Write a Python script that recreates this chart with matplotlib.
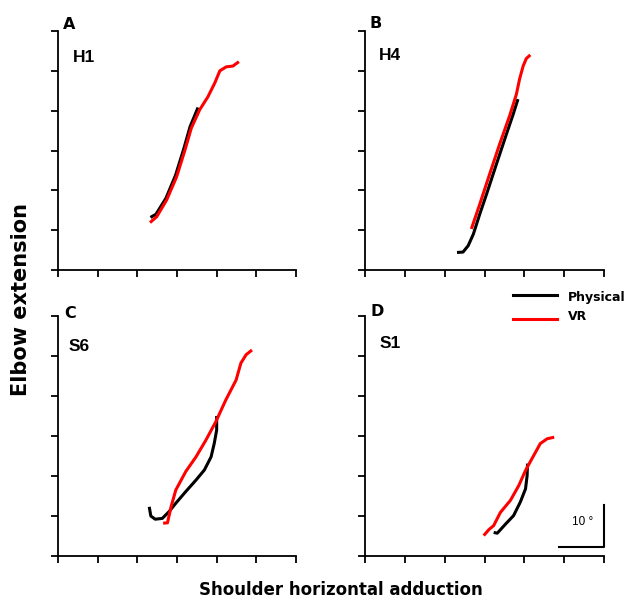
import matplotlib
matplotlib.use("Agg")
import matplotlib.pyplot as plt
from matplotlib.lines import Line2D

plt.rcParams['font.family'] = ['Liberation Sans', 'DejaVu Sans']

# trajectories, in axis units (1 unit = 10 deg)
a_phys_x = [2.33, 2.47, 2.72, 2.96, 3.17, 3.33, 3.53]
a_phys_y = [1.32, 1.40, 1.80, 2.37, 3.04, 3.60, 4.08]
a_vr_x = [2.32, 2.49, 2.74, 2.99, 3.20, 3.36, 3.57, 3.78, 3.95, 4.08, 4.24, 4.41, 4.56]
a_vr_y = [1.19, 1.34, 1.76, 2.34, 3.01, 3.56, 4.02, 4.35, 4.69, 5.00, 5.10, 5.12, 5.23]

b_phys_x = [2.31, 2.46, 2.59, 2.72, 2.88, 3.05, 3.30, 3.55, 3.72, 3.84]
b_phys_y = [0.44, 0.45, 0.61, 0.90, 1.40, 1.90, 2.66, 3.41, 3.91, 4.29]
b_vr_x = [2.67, 2.88, 3.13, 3.38, 3.63, 3.80, 3.88, 3.97, 4.05, 4.15]
b_vr_y = [1.03, 1.65, 2.41, 3.16, 3.87, 4.41, 4.79, 5.12, 5.31, 5.40]

c_phys_x = [2.30, 2.34, 2.45, 2.63, 2.80, 2.97, 3.22, 3.48, 3.69, 3.86, 3.94, 4.00, 4.00]
c_phys_y = [1.23, 1.00, 0.92, 0.94, 1.11, 1.32, 1.61, 1.90, 2.15, 2.48, 2.82, 3.15, 3.50]
c_vr_x = [2.65, 2.76, 2.85, 2.97, 3.22, 3.48, 3.73, 3.98, 4.23, 4.49, 4.61, 4.74, 4.89]
c_vr_y = [0.82, 0.83, 1.23, 1.65, 2.11, 2.48, 2.90, 3.36, 3.90, 4.40, 4.82, 5.03, 5.15]

d_phys_x = [3.23, 3.32, 3.53, 3.73, 3.90, 4.03, 4.07, 4.08]
d_phys_y = [0.59, 0.57, 0.80, 1.01, 1.35, 1.68, 2.01, 2.31]
d_vr_x = [2.98, 3.11, 3.23, 3.40, 3.65, 3.86, 4.03, 4.19, 4.40, 4.57, 4.75]
d_vr_y = [0.51, 0.66, 0.76, 1.09, 1.39, 1.76, 2.14, 2.43, 2.81, 2.93, 2.97]

letters = ['A', 'B', 'C', 'D']
subjects = ['H1', 'H4', 'S6', 'S1']
panels = [
    (a_phys_x, a_phys_y, a_vr_x, a_vr_y),
    (b_phys_x, b_phys_y, b_vr_x, b_vr_y),
    (c_phys_x, c_phys_y, c_vr_x, c_vr_y),
    (d_phys_x, d_phys_y, d_vr_x, d_vr_y),
]
ticks = list(range(7))

fig = plt.figure(figsize=(6.34, 6.01), dpi=100)
rects = [
    [58/634, 1-270/601, 238/634, 239/601],
    [365/634, 1-270/601, 239/634, 239/601],
    [58/634, 1-556/601, 238/634, 240/601],
    [365/634, 1-556/601, 239/634, 240/601],
]
# label positions in axes fractions
letter_pos = [(0.02, 1.029), (0.02, 1.033), (0.025, 1.012), (0.025, 1.02)]
subj_pos = [(0.063, 0.89), (0.059, 0.897), (0.046, 0.873), (0.06, 0.887)]
pix_font = ['DejaVu Sans']

axes = []
for i, r in enumerate(rects):
    ax = fig.add_axes(r)
    px, py, vx, vy = panels[i]
    ax.plot(px, py, color='black', lw=2.2, solid_capstyle='butt')
    ax.plot(vx, vy, color='#ff0000', lw=2.2, solid_capstyle='butt')
    ax.set_xlim(0, 6)
    ax.set_ylim(0, 6)
    ax.set_xticks(ticks)
    ax.set_yticks(ticks)
    ax.set_xticklabels([])
    ax.set_yticklabels([])
    ax.spines['top'].set_visible(False)
    ax.spines['right'].set_visible(False)
    for s in ('left', 'bottom'):
        ax.spines[s].set_linewidth(1.3)
    ax.tick_params(direction='out', length=5, width=1.3)
    ax.text(*letter_pos[i], letters[i], transform=ax.transAxes, fontsize=11.5,
            fontweight='bold', va='center', ha='left', family=pix_font)
    ax.text(*subj_pos[i], subjects[i], transform=ax.transAxes, fontsize=12.5,
            fontweight='bold', va='center', ha='left')
    ax.patch.set_alpha(0)
    axes.append(ax)

# scale bar in panel D
axd = axes[3]
axd.plot([4.875, 6.0, 6.0], [0.23, 0.23, 1.28], color='black', lw=1.5, clip_on=False)
axd.text(5.72, 0.85, '10 °', fontsize=8.5, ha='right', va='center')

# legend, drawn by hand
W, H = 634, 601
fig.add_artist(Line2D([513/W, 557/W], [1-295/H, 1-295/H], color='black', lw=2.2))
fig.add_artist(Line2D([513/W, 557/W], [1-319/H, 1-319/H], color='#ff0000', lw=2.2))
fig.text(568/W, 1-297/H, 'Physical', fontsize=9, fontweight='bold',
         ha='left', va='center', family=pix_font)
fig.text(568/W, 1-316/H, 'VR', fontsize=9, fontweight='bold',
         ha='left', va='center', family=pix_font)

fig.text(21/W, 1-299/H, 'Elbow extension', rotation=90, fontsize=15,
         fontweight='bold', ha='center', va='center', family=pix_font)
fig.text(341/W, 1-590/H, 'Shoulder horizontal adduction', fontsize=12,
         fontweight='bold', ha='center', va='center', family=pix_font)

fig.savefig('out.png', dpi=100)
